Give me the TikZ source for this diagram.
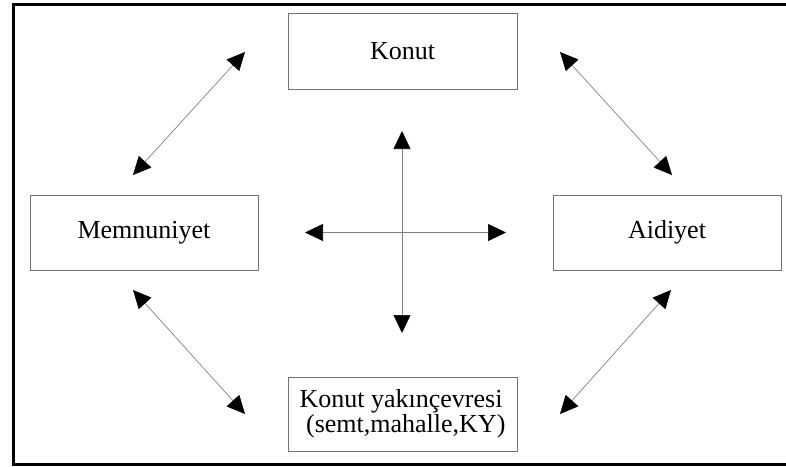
\documentclass[tikz,border=0pt]{standalone}
\usepackage{fontspec}
\setmainfont{Liberation Serif}
\usetikzlibrary{arrows.meta}
\begin{document}
\begin{tikzpicture}[x=1pt,y=-1pt,
  box/.style={draw=black!55,line width=0.9pt,inner sep=0pt,font=\fontsize{26}{25}\selectfont},
  rel/.style={draw=black!50,line width=0.7pt,{Triangle[length=18pt,width=17pt,fill=black,color=black]}-{Triangle[length=18pt,width=17pt,fill=black,color=black]}},
  frameline/.style={line width=3.5pt,black}]
\useasboundingbox (0,0) rectangle (786,466);
\clip (0,0) rectangle (786,466);
% frame
\draw[frameline] (800,4.5) -- (13.5,4.5) -- (13.5,464.5) -- (800,464.5);
% boxes
\node[box,minimum width=229pt,minimum height=76pt] (konut) at (402.5,51) {Konut};
\node[box,minimum width=228pt,minimum height=75pt] (mem) at (144,232.5) {Memnuniyet};
\node[box,minimum width=228pt,minimum height=75pt] (aid) at (667,232.5) {Aidiyet};
\node[box,minimum width=229pt,minimum height=74pt,align=left] (yak) at (402.5,414) {Konut yakınçevresi\\\ (semt,mahalle,KY)};
% coordinates
\coordinate (tlA) at (133,175); \coordinate (tlB) at (245,52);
\coordinate (trA) at (560,52); \coordinate (trB) at (672,175);
\coordinate (blA) at (133,290); \coordinate (blB) at (245,414);
\coordinate (brA) at (671,290); \coordinate (brB) at (560,414);
\coordinate (cU) at (402,131); \coordinate (cD) at (402,333);
\coordinate (cL) at (305,232.5); \coordinate (cR) at (506,232.5);
% arrows
\draw[rel] (tlA) -- (tlB);
\draw[rel] (trA) -- (trB);
\draw[rel] (blA) -- (blB);
\draw[rel] (brA) -- (brB);
\draw[rel] (cU) -- (cD);
\draw[rel] (cL) -- (cR);
\end{tikzpicture}
\end{document}
